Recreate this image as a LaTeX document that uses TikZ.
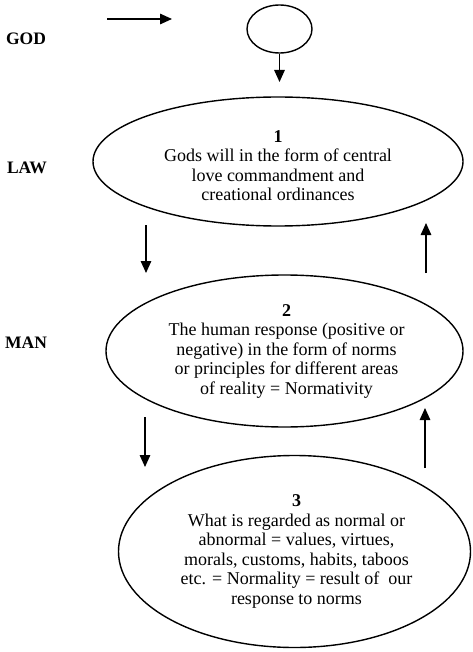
\documentclass[tikz,border=0pt]{standalone}
\usepackage{fontspec}
\setmainfont{Liberation Serif}
\usetikzlibrary{shapes.geometric,arrows.meta}
\begin{document}
\begin{tikzpicture}[x=1pt,y=-1pt,
  line width=1.4pt,
  bubble/.style={draw, ellipse, inner sep=0pt},
  words/.style={align=center, inner sep=0pt,
    font=\fontsize{18}{19.5}\selectfont},
  side/.style={font=\fontsize{17.5}{19.5}\selectfont\bfseries},
  arr/.style={-{Triangle[length=12pt,width=10.5pt]}}
]
\useasboundingbox (0,0) rectangle (472,652);

% labels
\node[side] (lgod) at (26,39) {GOD};
\node[side] (llaw) at (27,168) {LAW};
\node[side] (lman) at (26,343) {MAN};

% ellipses
\node[bubble, minimum width=65pt, minimum height=48pt] (god) at (279.5,29) {};
\node[bubble, minimum width=370pt, minimum height=129pt] (law) at (278,161.5) {};
\node[bubble, minimum width=357pt, minimum height=152pt] (man) at (284.5,351) {};
\node[bubble, minimum width=352pt, minimum height=192pt] (norm) at (294.5,551.5) {};

% texts
\node[words] (lawtext) at ([yshift=-4pt]law.center)
  {\textbf{1}\\Gods will in the form of central\\love commandment and\\creational ordinances};
\node[words] (mantext) at ([xshift=2pt]man.center)
  {\textbf{2}\\The human response (positive or\\negative) in the form of norms\\or principles for different areas\\of reality = Normativity};
\node[words] (normtext) at ([xshift=2pt]norm.center)
  {\textbf{3}\\What is regarded as normal or\\abnormal = values, virtues,\\morals, customs, habits, taboos\\etc. = Normality = result of~ our\\response to norms};

% arrow end points
\coordinate (h1) at (107,19);
\coordinate (h2) at (172,19);
\coordinate (g2) at (279.5,82);
\coordinate (a1) at (146,225);
\coordinate (a2) at (146,273);
\coordinate (b1) at (145,417);
\coordinate (b2) at (145,467);
\coordinate (c1) at (426,273);
\coordinate (c2) at (426,223);
\coordinate (d1) at (425,468);
\coordinate (d2) at (425,408);

\draw[arr] (h1) -- (h2);
\draw[arr] (god.south) -- (g2);
\draw[arr] (a1) -- (a2);
\draw[arr] (b1) -- (b2);
\draw[arr] (c1) -- (c2);
\draw[arr] (d1) -- (d2);
\end{tikzpicture}
\end{document}
